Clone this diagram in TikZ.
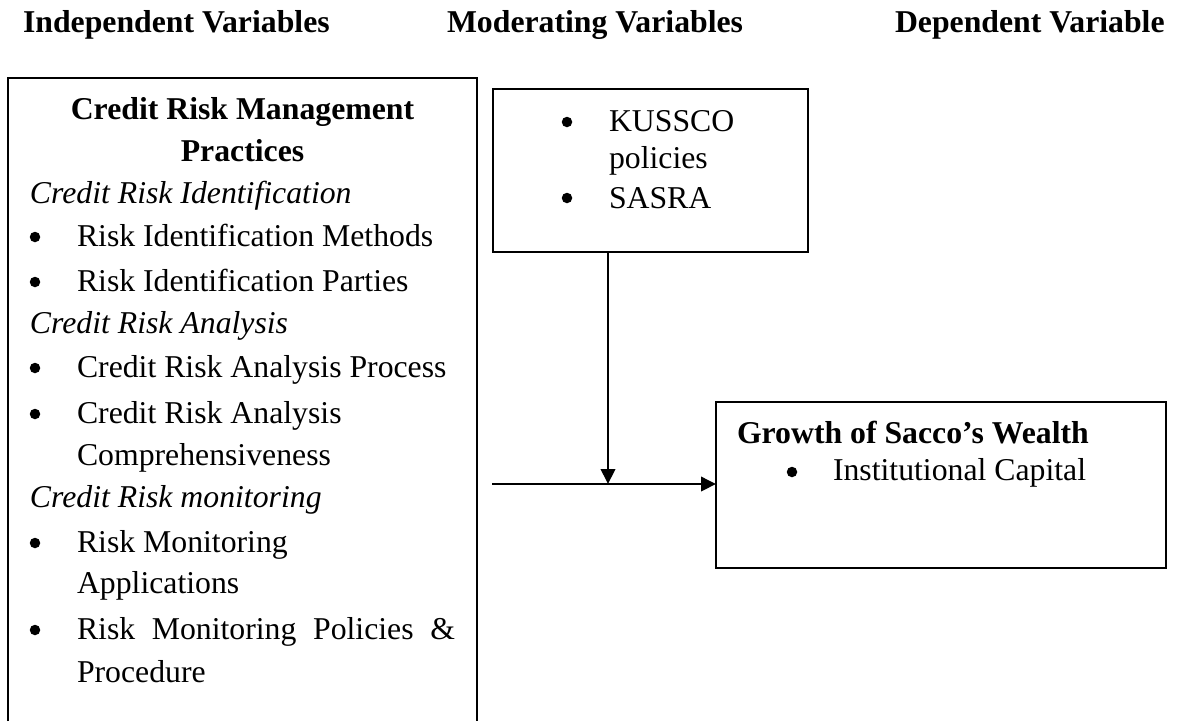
\documentclass[tikz,border=0pt]{standalone}
\usepackage{fontspec}
\setmainfont{Liberation Serif}
\usetikzlibrary{arrows.meta}
\begin{document}
\begin{tikzpicture}[x=0.4pt,y=-0.4pt,
  every node/.style={inner sep=0pt, outer sep=0pt, font=\fontsize{12.7}{15}\selectfont},
  txt/.style={anchor=base west},
  ctr/.style={anchor=base},
  dot/.style={circle, fill, minimum size=4.2pt},
  box/.style={draw, line width=0.8pt, inner sep=0pt},
  conn/.style={line width=0.8pt, -{Triangle[length=6pt,width=5.8pt]}}]
\useasboundingbox (0,0) rectangle (1181,721);
% headers
\node[txt] (h1) at (23,32) {\bfseries Independent Variables};
\node[txt] (h2) at (447,32) {\bfseries Moderating Variables};
\node[txt] (h3) at (895,32) {\bfseries Dependent Variable};
% left box (open at the bottom)
\draw[line width=0.8pt] (8,721) -- (8,78) -- (477,78) -- (477,721);
\node[ctr] (l1) at (242.5,119) {\bfseries Credit Risk Management};
\node[ctr] (l2) at (242.5,161) {\bfseries Practices};
\node[txt] (l3) at (30,203) {\itshape Credit Risk Identification};
\node[dot] (b1) at (35,237) {};
\node[txt] (l4) at (77,246) {Risk Identification Methods};
\node[dot] (b2) at (35,282) {};
\node[txt] (l5) at (77,291) {Risk Identification Parties};
\node[txt] (l6) at (30,333) {\itshape Credit Risk Analysis};
\node[dot] (b3) at (35,368) {};
\node[txt] (l7) at (77,377) {Credit Risk Analysis Process};
\node[dot] (b4) at (35,414) {};
\node[txt] (l8) at (77,423) {Credit Risk Analysis};
\node[txt] (l9) at (77,465) {Comprehensiveness};
\node[txt] (l10) at (30,507) {\itshape Credit Risk monitoring};
\node[dot] (b5) at (35,543) {};
\node[txt] (l11) at (77,552) {Risk Monitoring};
\node[txt] (l12) at (77,593) {Applications};
\node[dot] (b6) at (35,630) {};
\node[txt] (l13) at (77,639) {\makebox[151.2pt][s]{Risk Monitoring Policies \&}};
\node[txt] (l14) at (77,682) {Procedure};
% moderating box
\node[box, minimum width=126pt, minimum height=65.2pt] (mod) at (650.5,170.5) {};
\node[dot] (mb1) at (567,122) {};
\node[txt] (m1) at (609,131) {KUSSCO};
\node[txt] (m2) at (609,168) {policies};
\node[dot] (mb2) at (567,198) {};
\node[txt] (m3) at (609,208) {SASRA};
% dependent box
\node[box, minimum width=180pt, minimum height=66.4pt] (dep) at (941,485) {};
\node[txt] (d1) at (737,443) {\bfseries Growth of Sacco’s Wealth};
\node[dot] (db) at (792,472) {};
\node[txt] (d2) at (833,480) {Institutional Capital};
% connectors
\coordinate (j) at (608,484);
\coordinate (s) at (492,484);
\draw[conn] (mod.south -| j) -- (j);
\draw[conn] (s) -- (dep.west |- s);
\end{tikzpicture}
\end{document}
